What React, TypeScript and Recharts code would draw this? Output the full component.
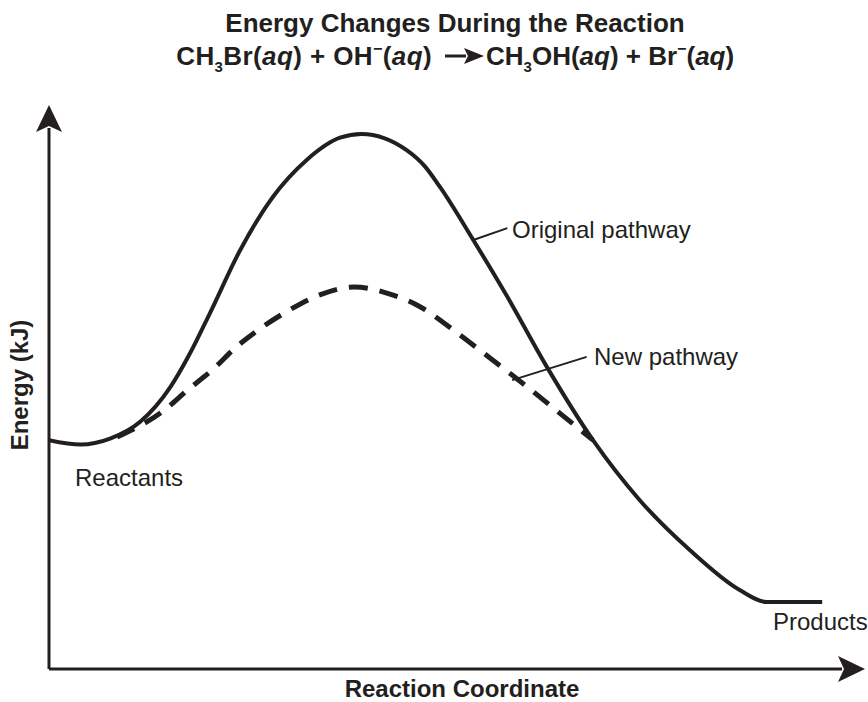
import { LineChart, Line, XAxis, YAxis, ReferenceLine } from 'recharts'

// reaction coordinate / energy, arbitrary units (0-100 on both axes)
const originalX = [0, 4, 7.7, 11.5, 15.3, 17.8, 20.3, 24.1, 28.2, 32.5, 36.7, 39.4, 45.1, 47.4, 49.3, 53.5, 57.8, 62.8, 68.6, 74.5, 80.8, 87.1, 90.5, 97.5]
const originalY = [42.3, 41.5, 42.6, 45.7, 52.1, 58.4, 65.8, 77.4, 87.2, 94.1, 98.2, 98.9, 95.9, 92.9, 89.1, 79.3, 68.8, 55.8, 42.3, 31.2, 22.0, 14.6, 12.4, 12.4]

const newX = [8.6, 14.4, 17.5, 20.6, 23.6, 26.9, 29.9, 33.7, 38.5, 43.0, 46.5, 51.5, 55.6, 60.0, 64.4, 68.6]
const newY = [42.9, 47.7, 51.6, 55.3, 59.5, 63.2, 66.0, 68.9, 70.6, 69.3, 67.2, 62.1, 57.5, 52.5, 47.3, 42.3]

// leader lines for the two pathway labels
const originalLeader = [{ x: 53.5, y: 79.3 }, { x: 57.8, y: 81.5 }]
const newLeader = [{ x: 58.4, y: 53.4 }, { x: 67.8, y: 57.7 }]

type Row = { x: number; original?: number; newPath?: number }

function buildRows(): Row[] {
  const map = new Map<number, Row>()
  originalX.forEach((x, i) => {
    const r = map.get(x) ?? { x }
    r.original = originalY[i]
    map.set(x, r)
  })
  newX.forEach((x, i) => {
    const r = map.get(x) ?? { x }
    r.newPath = newY[i]
    map.set(x, r)
  })
  return Array.from(map.values()).sort((a, b) => a.x - b.x)
}

const rows = buildRows()

const ink = '#231f20'
const font = '"Liberation Sans", Arial, Helvetica, sans-serif'

export default function App() {
  return (
    <div style={{ position: 'absolute', left: 0, top: 0, width: 868, height: 702, background: '#fff' }}>
      <LineChart width={868} height={702} data={rows} margin={{ top: 128, right: 26, bottom: 32, left: 48 }}>
        <defs>
          <marker id="arrowHead" viewBox="0 0 28 26" markerWidth={28} markerHeight={26} refX={4} refY={13}
            markerUnits="userSpaceOnUse" orient="auto-start-reverse">
            <path d="M0,0 L27,13 L0,26 L6,13 Z" fill={ink} />
          </marker>
        </defs>
        <XAxis type="number" dataKey="x" domain={[0, 100]} height={1} tick={false} tickLine={false}
          stroke={ink} strokeWidth={3} axisLine={{ stroke: ink, strokeWidth: 3, markerEnd: 'url(#arrowHead)' }}
          allowDataOverflow />
        <YAxis type="number" domain={[0, 100]} width={1} tick={false} tickLine={false}
          stroke={ink} strokeWidth={3} axisLine={{ stroke: ink, strokeWidth: 3, markerStart: 'url(#arrowHead)' }}
          allowDataOverflow />
        <Line type="monotone" dataKey="original" stroke={ink} strokeWidth={4} dot={false} activeDot={false}
          connectNulls isAnimationActive={false} />
        <Line type="monotone" dataKey="newPath" stroke={ink} strokeWidth={5} strokeDasharray="19 12"
          dot={false} activeDot={false} connectNulls isAnimationActive={false} />
        <ReferenceLine segment={originalLeader} stroke={ink} strokeWidth={2} ifOverflow="visible" />
        <ReferenceLine segment={newLeader} stroke={ink} strokeWidth={2} ifOverflow="visible" />

        <g fontFamily={font} fill={ink}>
          <text x={455} y={32} textAnchor="middle" fontSize={26} fontWeight="bold">
            Energy Changes During the Reaction
          </text>
          <text x={432} y={65} textAnchor="end" fontSize={26} fontWeight="bold" letterSpacing={0.4}>
            CH<tspan fontSize={15} dy={7}>3</tspan><tspan dy={-7}>Br(</tspan><tspan fontStyle="italic">aq</tspan>) + OH
            <tspan fontSize={16} dy={-11}>−</tspan><tspan dy={11}>(</tspan><tspan fontStyle="italic">aq</tspan>)
          </text>
          <path d="M445,56 L466,56" stroke={ink} strokeWidth={3} />
          <path d="M464,48 L484,56 L464,64 L468,56 Z" fill={ink} />
          <text x={486} y={65} textAnchor="start" fontSize={26} fontWeight="bold">
            CH<tspan fontSize={15} dy={7}>3</tspan><tspan dy={-7}>OH(</tspan><tspan fontStyle="italic">aq</tspan>) + Br
            <tspan fontSize={16} dy={-11}>−</tspan><tspan dy={11}>(</tspan><tspan fontStyle="italic">aq</tspan>)
          </text>

          <text x={75} y={486} fontSize={24}>Reactants</text>
          <text x={773} y={630} fontSize={24}>Products</text>
          <text x={512} y={238} fontSize={24}>Original pathway</text>
          <text x={594} y={365} fontSize={24}>New pathway</text>

          <text x={462} y={697} textAnchor="middle" fontSize={24} fontWeight="bold">Reaction Coordinate</text>
          <text x={28} y={385} textAnchor="middle" fontSize={24} fontWeight="bold" transform="rotate(-90 28 385)">
            Energy (kJ)
          </text>
        </g>
      </LineChart>
    </div>
  )
}
